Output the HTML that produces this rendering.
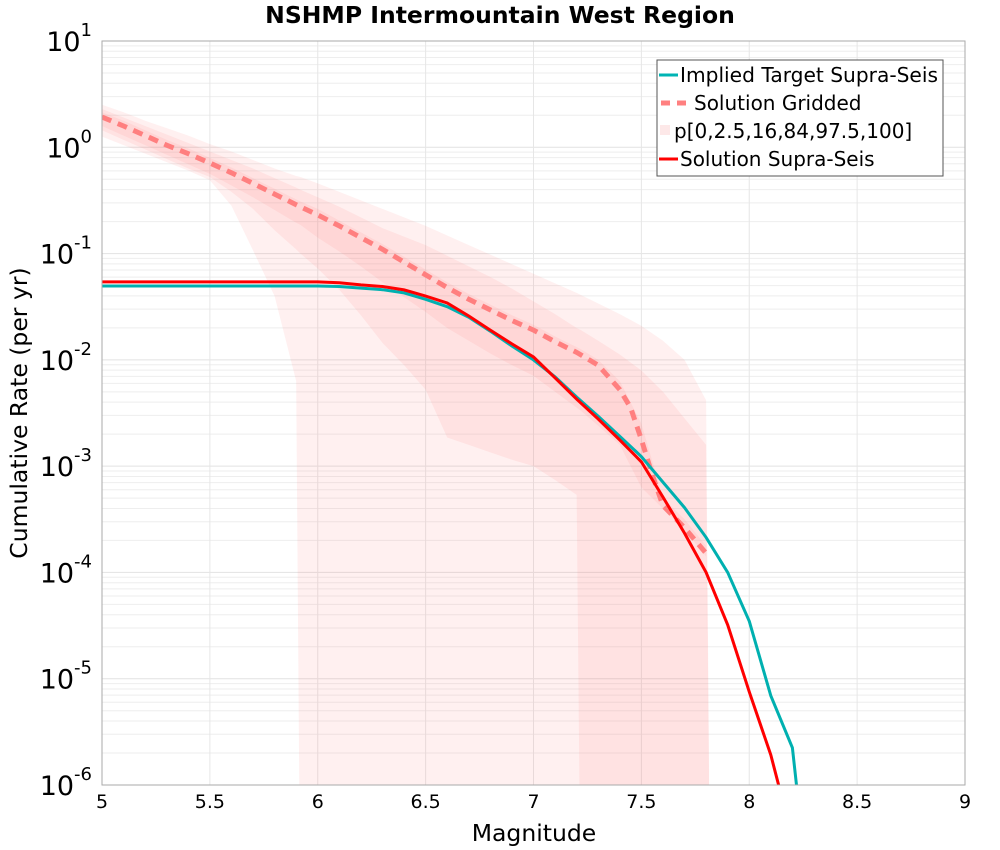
<!DOCTYPE html>
<html><head><meta charset="utf-8">
<style>
html,body{margin:0;padding:0;background:#fff;overflow:hidden;width:1000px;height:850px;font-family:"DejaVu Sans","Liberation Sans",sans-serif;}
svg{display:block;}
svg text{font-family:"DejaVu Sans","Liberation Sans",sans-serif;}
</style></head>
<body>
<svg id="chart" width="1000" height="850" viewBox="0 0 1000 850" xmlns="http://www.w3.org/2000/svg">
<text x="500" y="23" text-anchor="middle" font-size="23.5" font-weight="bold">NSHMP Intermountain West Region</text>
<g id="grid"></g>
<g id="bands"></g>
<g id="lines"></g>
<rect x="102" y="41" width="863" height="744" fill="none" stroke="#aaa" stroke-width="1"/>
<g id="axes"></g>
<text x="534" y="841" text-anchor="middle" font-size="23.5">Magnitude</text>
<text transform="translate(27,413) rotate(-90)" text-anchor="middle" font-size="23.5">Cumulative Rate (per yr)</text>
<g>
<rect x="657" y="60" width="286" height="116" fill="#fff" stroke="#555" stroke-width="1"/>
<line x1="659" y1="75" x2="678" y2="75" stroke="#00b4b4" stroke-width="3"/>
<text x="680" y="82" font-size="20" textLength="258" lengthAdjust="spacingAndGlyphs">Implied Target Supra-Seis</text>
<line x1="661" y1="103" x2="690" y2="103" stroke="#ff8080" stroke-width="5" stroke-dasharray="9,7"/>
<text x="694" y="110" font-size="20">Solution Gridded</text>
<rect x="660" y="125" width="10" height="10" fill="#fde8e8"/>
<text x="674" y="138" font-size="20">p[0,2.5,16,84,97.5,100]</text>
<line x1="659" y1="159" x2="678" y2="159" stroke="#ff0000" stroke-width="3"/>
<text x="680" y="166" font-size="20">Solution Supra-Seis</text>
</g>
</svg>
<script>
// data (log10 of rate)
const lineMags = [5.0,5.1,5.2,5.3,5.4,5.5,5.6,5.7,5.8,5.9,6.0,6.1,6.2,6.3,6.4,6.5,6.6,6.7,6.8,6.9,7.0,7.1,7.2,7.3,7.4,7.5,7.6,7.7,7.8,7.9,8.0,8.1,8.2,8.3];
const solutionLog = [-1.267,-1.267,-1.267,-1.267,-1.267,-1.267,-1.267,-1.267,-1.267,-1.267,-1.267,-1.275,-1.295,-1.31,-1.342,-1.40,-1.465,-1.587,-1.72,-1.85,-1.973,-2.17,-2.37,-2.556,-2.754,-2.96,-3.29,-3.63,-4.0,-4.494,-5.124,-5.717,-6.5,-7.5];
const targetLog = [-1.305,-1.305,-1.305,-1.305,-1.305,-1.305,-1.305,-1.305,-1.305,-1.305,-1.305,-1.31,-1.325,-1.34,-1.37,-1.43,-1.50,-1.60,-1.73,-1.87,-2.0,-2.16,-2.35,-2.53,-2.72,-2.91,-3.15,-3.39,-3.67,-4.0,-4.46,-5.16,-5.65,-7.5];
const griddedMags = [5.0,5.1,5.2,5.3,5.4,5.5,5.6,5.7,5.8,5.9,6.0,6.1,6.2,6.3,6.4,6.5,6.6,6.7,6.8,6.9,7.0,7.1,7.2,7.3,7.4,7.45,7.5,7.55,7.6,7.7,7.8];
const griddedLog = [0.285,0.20,0.11,0.02,-0.06,-0.148,-0.24,-0.34,-0.44,-0.54,-0.637,-0.74,-0.85,-0.96,-1.08,-1.20,-1.32,-1.43,-1.53,-1.63,-1.72,-1.83,-1.93,-2.05,-2.28,-2.45,-2.75,-3.08,-3.37,-3.58,-3.82];
const bandMags = [5.0,5.1,5.2,5.3,5.4,5.5,5.6,5.7,5.8,5.9,5.92,6.0,6.1,6.2,6.3,6.4,6.5,6.6,6.7,6.8,6.9,7.0,7.1,7.2,7.22,7.3,7.4,7.5,7.6,7.7,7.8,7.82];
const p100 = [0.40,0.33,0.25,0.18,0.11,0.03,-0.04,-0.12,-0.20,-0.27,-0.28,-0.34,-0.42,-0.50,-0.58,-0.66,-0.74,-0.83,-0.92,-1.01,-1.10,-1.19,-1.28,-1.37,-1.39,-1.47,-1.57,-1.68,-1.82,-2.0,-2.38,-7.5];
const p975 = [0.36,0.28,0.20,0.12,0.04,-0.04,-0.12,-0.20,-0.29,-0.38,-0.40,-0.47,-0.56,-0.66,-0.76,-0.84,-0.92,-1.02,-1.12,-1.22,-1.33,-1.45,-1.57,-1.70,-1.72,-1.82,-1.95,-2.1,-2.3,-2.55,-2.8,-7.5];
const p84 = [0.33,0.25,0.16,0.07,-0.01,-0.10,-0.19,-0.29,-0.39,-0.49,-0.51,-0.58,-0.69,-0.80,-0.91,-1.03,-1.15,-1.27,-1.38,-1.48,-1.58,-1.67,-1.78,-1.88,-1.90,-2.0,-2.2,-2.6,-3.3,-3.5,-3.75,-7.5];
const p16 = [0.20,0.11,0.02,-0.07,-0.16,-0.25,-0.36,-0.47,-0.59,-0.71,-0.73,-0.85,-0.98,-1.12,-1.27,-1.41,-1.55,-1.70,-1.82,-1.94,-2.05,-2.15,-2.30,-2.45,-2.48,-2.62,-2.80,-3.2,-3.4,-3.6,-3.85,-7.5];
const p25 = [0.16,0.07,-0.02,-0.11,-0.20,-0.28,-0.42,-0.58,-0.78,-0.96,-1.0,-1.14,-1.34,-1.58,-1.84,-2.05,-2.28,-2.73,-2.80,-2.87,-2.94,-3.0,-3.13,-3.27,-7.5,-7.5,-7.5,-7.5,-7.5,-7.5,-7.5,-7.5];
const p0 = [0.10,0.02,-0.06,-0.14,-0.22,-0.31,-0.55,-0.97,-1.4,-2.2,-7.5,-7.5,-7.5,-7.5,-7.5,-7.5,-7.5,-7.5,-7.5,-7.5,-7.5,-7.5,-7.5,-7.5,-7.5,-7.5,-7.5,-7.5,-7.5,-7.5,-7.5,-7.5];
const xTicks = [5,5.5,6,6.5,7,7.5,8,8.5,9];
const yExps = [1,0,-1,-2,-3,-4,-5,-6];

const NS='http://www.w3.org/2000/svg';
const X0=102,X1=965,Y0=41,Y1=785;
const xs = m => X0 + (m-5)/4*(X1-X0);
const ys = l => Y0 + (1-l)/7*(Y1-Y0);
function mk(tag, attrs, parent){const e=document.createElementNS(NS,tag);for(const k in attrs)e.setAttribute(k,attrs[k]);parent.appendChild(e);return e;}
const svg=document.getElementById('chart');
const defs=mk('defs',{},svg);
const cp=mk('clipPath',{id:'clip'},defs);
mk('rect',{x:X0,y:Y0,width:X1-X0,height:Y1-Y0},cp);
const grid=document.getElementById('grid');
for(let d=-6; d<1; d++){for(let k=2;k<=9;k++){const y=ys(d+Math.log10(k));
const l=mk('line',{x1:X0,x2:X1,y1:y,y2:y,stroke:'#eee','stroke-width':1},grid);

}}
yExps.forEach(e=>{const y=ys(e);const l=mk('line',{x1:X0,x2:X1,y1:y,y2:y,stroke:'#e2e2e2','stroke-width':1},grid);

});
xTicks.forEach(t=>{const x=xs(t);const l=mk('line',{x1:x,x2:x,y1:Y0,y2:Y1,stroke:'#e6e6e6','stroke-width':1},grid);

});
const bands=document.getElementById('bands');
bands.setAttribute('clip-path','url(#clip)');
function band(up,lo,name){let pts=[];bandMags.forEach((m,i)=>pts.push(xs(m)+','+ys(up[i])));
for(let i=bandMags.length-1;i>=0;i--)pts.push(xs(bandMags[i])+','+ys(lo[i]));
const p=mk('polygon',{points:pts.join(' '),fill:'rgb(255,120,120)','fill-opacity':0.11},bands);

}
band(p100,p0,'band-p0-p100');
band(p975,p25,'band-p2.5-p97.5');
band(p84,p16,'band-p16-p84');
const lines=document.getElementById('lines');
lines.setAttribute('clip-path','url(#clip)');
function path(ms,vs,attrs,name){const d=ms.map((m,i)=>(i?'L':'M')+xs(m).toFixed(1)+','+ys(vs[i]).toFixed(1)).join(' ');
const p=mk('path',Object.assign({d:d,fill:'none'},attrs),lines);

}
path(griddedMags,griddedLog,{stroke:'#ff7f7f','stroke-width':5,'stroke-dasharray':'10,7'},'solution-gridded-line');
path(lineMags,targetLog,{stroke:'#00b0b0','stroke-width':3},'implied-target-line');
path(lineMags,solutionLog,{stroke:'#ff0000','stroke-width':3},'solution-supra-seis-line');
const axes=document.getElementById('axes');
xTicks.forEach(t=>{const tx=mk('text',{x:xs(t),y:808,'text-anchor':'middle','font-size':19},axes);tx.textContent=String(t);

});
yExps.forEach(e=>{const y=ys(e);const tx=mk('text',{x:92,y:y+10,'text-anchor':'end','font-size':27},axes);


tx.textContent='10';
const s=mk('tspan',{'font-size':18,dy:-15},tx);s.textContent=String(e);});
</script>
</body></html>
